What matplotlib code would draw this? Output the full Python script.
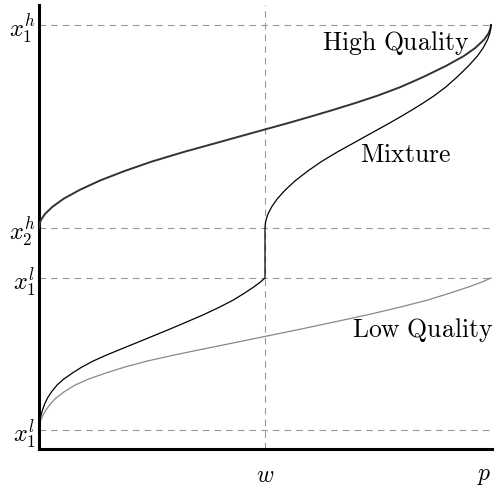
import numpy as np
import matplotlib
matplotlib.use("Agg")
import matplotlib.pyplot as plt

plt.rcParams['mathtext.fontset'] = 'cm'

# support bounds of the two quality types
x2_low, x1_low = 0.19, 1.71
x2_high, x1_high = 2.21, 4.24
w = 0.5  # share of low quality in the mixture

# high quality quantile curve
p_high = [0, 0.002, 0.006, 0.014, 0.03, 0.055, 0.09, 0.135, 0.19, 0.25,
          0.32, 0.40, 0.45, 0.51, 0.55, 0.60, 0.65, 0.70, 0.75, 0.80,
          0.85, 0.90, 0.94, 0.965, 0.985, 0.995, 0.999, 1.0]
high_q = [2.21, 2.263, 2.303, 2.354, 2.423, 2.504, 2.591, 2.685, 2.781, 2.875,
          2.97, 3.07, 3.133, 3.208, 3.258, 3.323, 3.39, 3.46, 3.535, 3.62,
          3.72, 3.83, 3.93, 4.01, 4.095, 4.16, 4.21, 4.24]

# low quality quantile curve
p_low = [0, 0.001, 0.004, 0.009, 0.0155, 0.025, 0.0376, 0.055, 0.08, 0.11,
         0.148, 0.19, 0.24, 0.294, 0.369, 0.44, 0.51, 0.58, 0.653, 0.73,
         0.80, 0.86, 0.91, 0.95, 0.98, 1.0]
low_q = [0.19, 0.24, 0.29, 0.34, 0.39, 0.45, 0.51, 0.57, 0.64, 0.70,
         0.76, 0.82, 0.88, 0.935, 1.005, 1.07, 1.135, 1.20, 1.27, 1.345,
         1.42, 1.49, 1.56, 1.62, 1.67, 1.71]

# mixture: low part up to w, jump at w, then high part
p_mix = [0, 0.0005, 0.002, 0.0045, 0.0078, 0.0125, 0.0188, 0.0275, 0.04, 0.055,
         0.074, 0.095, 0.12, 0.147, 0.1845, 0.22, 0.255, 0.29, 0.3265, 0.365,
         0.40, 0.43, 0.455, 0.475, 0.49, 0.5,
         0.5, 0.501, 0.503, 0.507, 0.515, 0.5275, 0.545, 0.5675, 0.595, 0.625,
         0.66, 0.70, 0.725, 0.755, 0.775, 0.80, 0.825, 0.85, 0.875, 0.90,
         0.925, 0.95, 0.97, 0.9825, 0.9925, 0.9975, 0.9995, 1.0]
mix_q = [0.19, 0.24, 0.29, 0.34, 0.39, 0.45, 0.51, 0.57, 0.64, 0.70,
         0.76, 0.82, 0.88, 0.935, 1.005, 1.07, 1.135, 1.20, 1.27, 1.345,
         1.42, 1.49, 1.56, 1.62, 1.67, 1.71,
         2.21, 2.263, 2.303, 2.354, 2.423, 2.504, 2.591, 2.685, 2.781, 2.875,
         2.97, 3.07, 3.133, 3.208, 3.258, 3.323, 3.39, 3.46, 3.535, 3.62,
         3.72, 3.83, 3.93, 4.01, 4.095, 4.16, 4.21, 4.24]

ytick_vals = [x2_low, x1_low, x2_high, x1_high]
ytick_labels = [r'$x_1^l$', r'$x_1^l$', r'$x_2^h$', r'$x_1^h$']
xtick_vals = [w, 1.0]
xtick_labels = [r'$w$', r'$p$']

fig = plt.figure(figsize=(4.94, 4.87), dpi=100)
ax = fig.add_axes([39/494, 38/487, 455/494, 444/487])

dash_kw = dict(color='#999999', lw=0.8, dashes=(6, 4.5), zorder=1)
for yv in ytick_vals:
    ax.plot([0, 1], [yv, yv], **dash_kw)
ax.plot([w, w], [0, 4.44], **dash_kw)

ax.plot(p_low, low_q, color='#888888', lw=0.9, zorder=2)
ax.plot(p_high, high_q, color='#333333', lw=1.4, zorder=3)
ax.plot(p_mix, mix_q, color='black', lw=0.9, zorder=3)

ax.text(0.79, 4.06, r'$\mathrm{High\ Quality}$', ha='center', va='center', fontsize=18.5)
ax.text(0.81, 2.94, r'$\mathrm{Mixture}$', ha='center', va='center', fontsize=18.5)
ax.text(0.849, 1.19, r'$\mathrm{Low\ Quality}$', ha='center', va='center', fontsize=18.5)

ax.set_xlim(0, 455/452)
ax.set_ylim(0, 4.44)
ax.set_yticks(ytick_vals)
ax.set_yticklabels(ytick_labels, fontsize=17.5)
ax.set_xticks(xtick_vals)
ax.set_xticklabels(xtick_labels, fontsize=17)
ax.get_xticklabels()[1].set_ha('right')
ax.tick_params(axis='y', length=0, pad=2)
ax.tick_params(axis='x', length=0, pad=10)

for s in ['top', 'right']:
    ax.spines[s].set_visible(False)
for s in ['left', 'bottom']:
    ax.spines[s].set_linewidth(2.2)
    ax.spines[s].set_capstyle('projecting')

fig.savefig('out.png', dpi=100)
